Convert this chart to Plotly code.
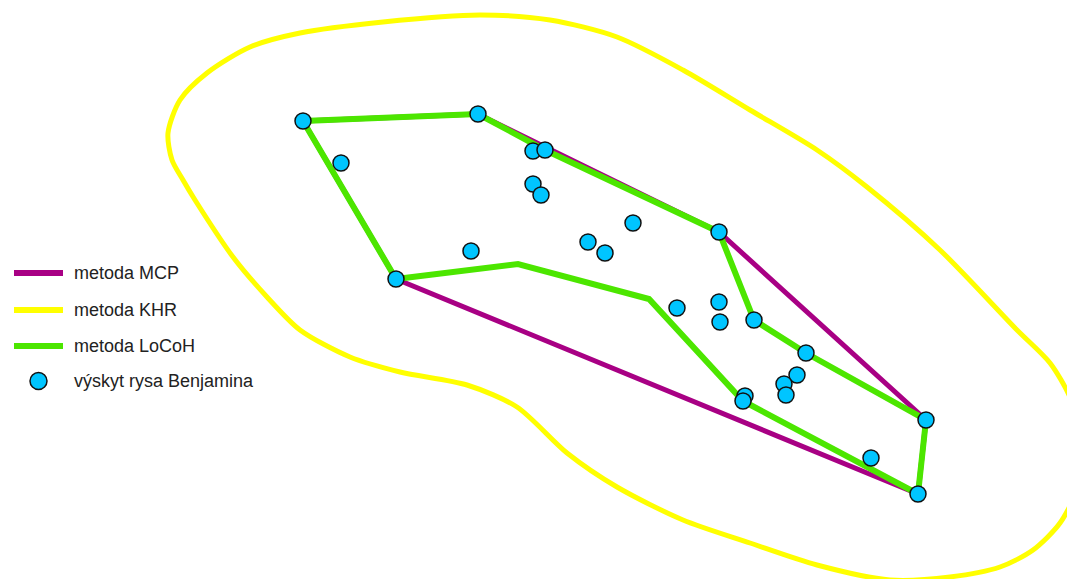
import plotly.graph_objects as go

# Occurrence points (image-plane coordinates)
pts_x = [303, 478, 533, 545, 533, 541, 341, 633, 588, 605, 471, 719, 396, 677, 719, 720,
         754, 806, 797, 784, 786, 745, 743, 926, 871, 918]
pts_y = [121, 114, 151, 150, 184, 195, 163, 223, 242, 253, 251, 232, 279, 308, 302, 322,
         320, 353, 375, 384, 395, 396, 401, 420, 458, 494]

# Minimum convex polygon
mcp_x = [303, 478, 719, 926, 918, 396, 303]
mcp_y = [121, 114, 232, 420, 494, 279, 121]

# LoCoH hull
locoh_x = [303, 478, 545, 719, 754, 806, 926, 918, 743, 649, 518, 396, 303]
locoh_y = [121, 114, 150, 232, 320, 353, 420, 494, 401, 299, 264, 279, 121]

# Kernel home range contour
khr_x = [480, 550, 617, 683, 750, 817, 867, 940, 1017, 1050, 1070, 1080, 1083, 1079, 1060,
         1033, 1000, 950, 890, 817, 750, 683, 617, 567, 517, 467, 400, 350, 300, 267, 233,
         195, 183, 172, 168, 180, 207, 250, 300, 383, 480]
khr_y = [15, 20, 37, 70, 110, 150, 187, 250, 330, 363, 397, 428, 455, 485, 523,
         550, 567, 577, 580, 565, 543, 520, 487, 453, 407, 385, 372, 357, 330, 297, 257,
         200, 180, 160, 133, 100, 73, 47, 33, 22, 15]

legend_labels = ["metoda MCP", "metoda KHR", "metoda LoCoH", "výskyt rysa Benjamina"]

C_MCP = "#A80084"
C_KHR = "#FFFF00"
C_LOCOH = "#4CE600"
C_PT = "#00C5FF"

fig = go.Figure()
fig.add_trace(go.Scatter(x=mcp_x, y=mcp_y, mode="lines",
                         line=dict(color=C_MCP, width=5), hoverinfo="skip",
                         name=legend_labels[0], showlegend=False))
fig.add_trace(go.Scatter(x=khr_x, y=khr_y, mode="lines",
                         line=dict(color=C_KHR, width=5, shape="spline", smoothing=0.8),
                         hoverinfo="skip", name=legend_labels[1], showlegend=False))
fig.add_trace(go.Scatter(x=locoh_x, y=locoh_y, mode="lines",
                         line=dict(color=C_LOCOH, width=6), hoverinfo="skip",
                         name=legend_labels[2], showlegend=False))
fig.add_trace(go.Scatter(x=pts_x, y=pts_y, mode="markers",
                         marker=dict(color=C_PT, size=16, line=dict(color="#111111", width=1.5)),
                         name=legend_labels[3], showlegend=False))

# Manual legend
leg_y = [273, 310, 346, 381]
leg_colors = [C_MCP, C_KHR, C_LOCOH]
shapes = []
for yy, cc in zip(leg_y[:3], leg_colors):
    shapes.append(dict(type="line", x0=14, x1=63, y0=yy, y1=yy, xref="x", yref="y",
                       line=dict(color=cc, width=6)))
shapes.append(dict(type="circle", x0=30, x1=47, y0=leg_y[3] - 8.5, y1=leg_y[3] + 8.5,
                   xref="x", yref="y", fillcolor=C_PT, line=dict(color="#111111", width=1.5)))
annotations = []
for yy, lab in zip(leg_y, legend_labels):
    annotations.append(dict(x=72, y=yy, xref="x", yref="y", text=lab, showarrow=False,
                            xanchor="left", yanchor="middle",
                            font=dict(family="Liberation Sans, Arial, sans-serif",
                                      size=18, color="#222222")))

# page body has an 8px margin: offset ranges so values map to window pixels
OFF = 8
fig.update_layout(
    width=1075, height=579,
    margin=dict(l=0, r=0, t=0, b=0),
    paper_bgcolor="white", plot_bgcolor="white",
    xaxis=dict(range=[OFF, 1075 + OFF], visible=False, fixedrange=True),
    yaxis=dict(range=[579 + OFF, OFF], visible=False, fixedrange=True),
    shapes=shapes, annotations=annotations,
    showlegend=False,
)

fig.write_html("out.html")
